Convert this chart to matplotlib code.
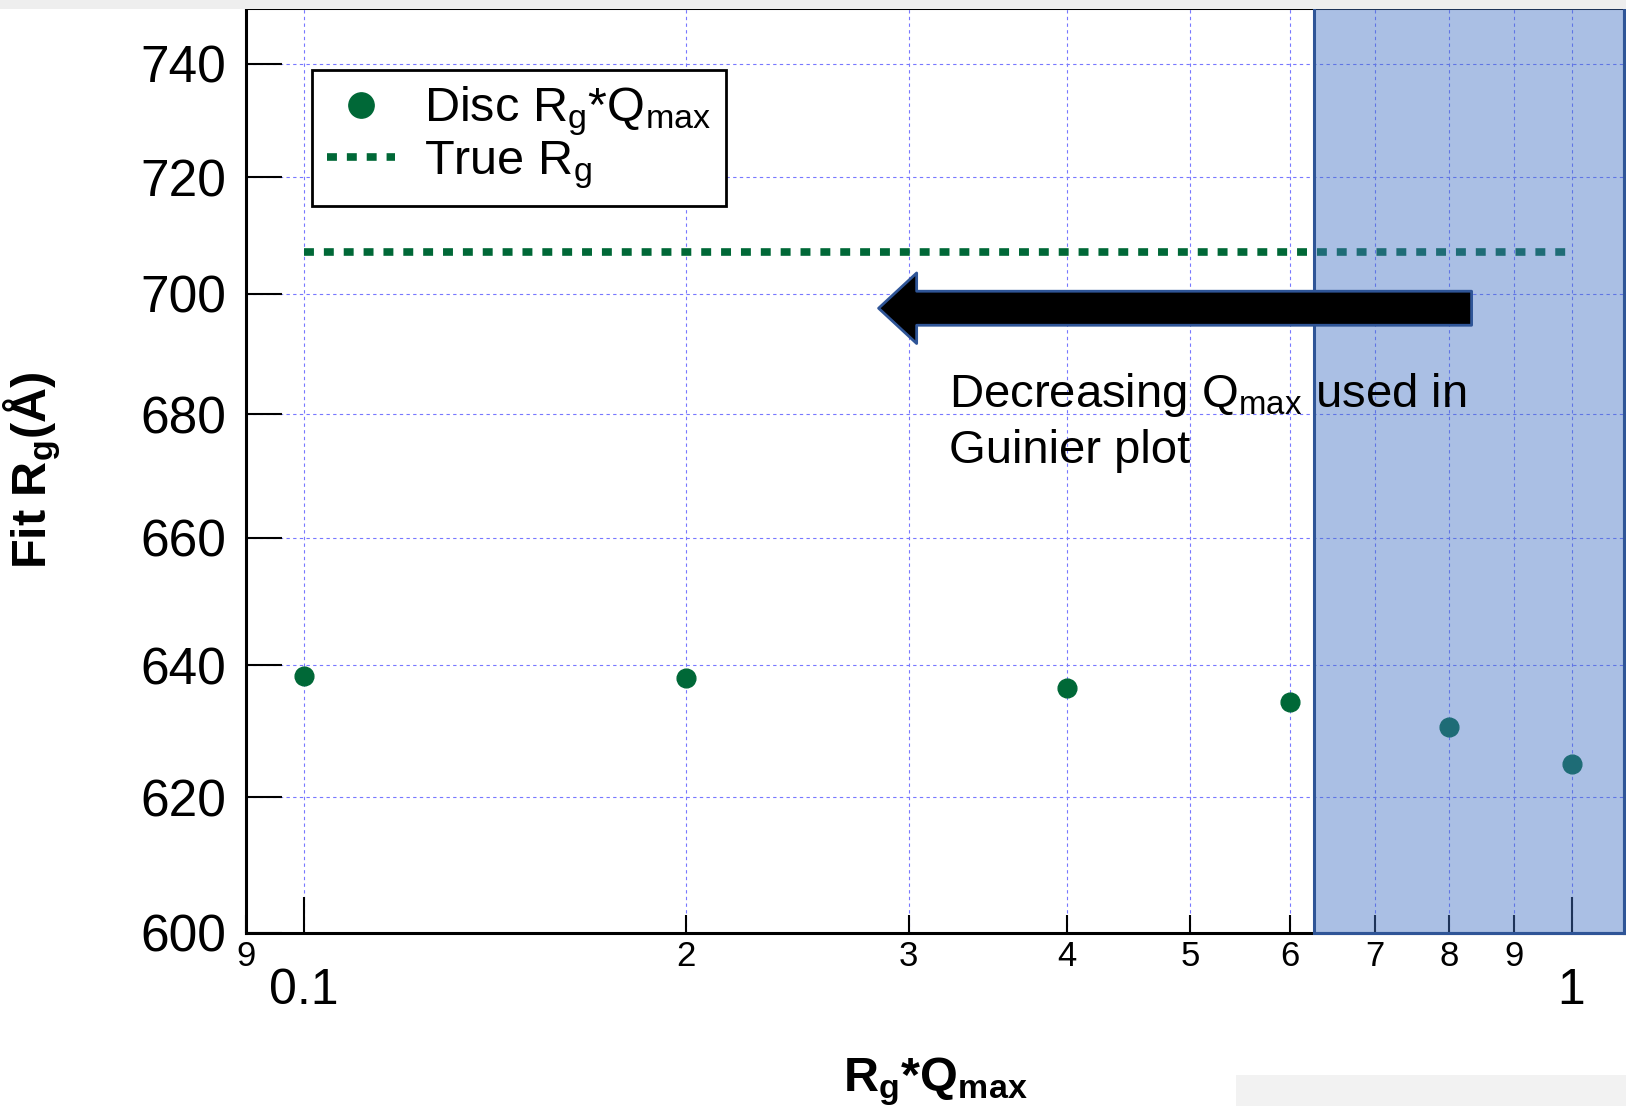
import matplotlib
matplotlib.use("Agg")
import matplotlib.pyplot as plt
from matplotlib.patches import Rectangle, FancyArrowPatch, ArrowStyle
from matplotlib.ticker import FixedLocator, FixedFormatter, NullLocator
from matplotlib.transforms import blended_transform_factory

plt.rcParams["font.family"] = ["Liberation Sans", "DejaVu Sans"]
plt.rcParams["mathtext.fontset"] = "custom"
plt.rcParams["mathtext.rm"] = "Liberation Sans"
plt.rcParams["mathtext.it"] = "Liberation Sans:italic"
plt.rcParams["mathtext.bf"] = "Liberation Sans:bold"
plt.rcParams["mathtext.default"] = "regular"

# data
rgq = [0.1, 0.2, 0.4, 0.6, 0.8, 1.0]
fit_rg = [638.3, 638.0, 636.6, 634.4, 630.6, 625.0]
true_rg_x = [0.1, 1.0]
true_rg = 707.1

y_ticks = [600, 620, 640, 660, 680, 700, 720, 740]
x_major = [0.1, 1.0]
x_major_labels = ["0.1", "1"]
x_minor = [0.09, 0.2, 0.3, 0.4, 0.5, 0.6, 0.7, 0.8, 0.9]
x_minor_labels = ["9", "2", "3", "4", "5", "6", "7", "8", "9"]

highlight_start = 0.626
arrow_tail = 0.834
arrow_tip = 0.284
arrow_y = 697.6

GREEN = "#006837"
GRID = "#7878ff"

fig = plt.figure(figsize=(16.26, 11.16), dpi=100)
W, H = 1626, 1116
ax = fig.add_axes([246 / W, 1 - 933 / H, (1624 - 246) / W, (933 - 8) / H])

# screenshot remnants
fig.patches.append(Rectangle((0, 1 - 9 / H), 1, 9 / H, transform=fig.transFigure,
                             facecolor="#eeeeee", edgecolor="none", zorder=0))
fig.patches.append(Rectangle((1236 / W, 1 - 1106 / H), 1 - 1236 / W, 31 / H,
                             transform=fig.transFigure, facecolor="#f2f2f2",
                             edgecolor="none", zorder=0))

ax.set_xscale("log")
ax.set_yscale("log")
ax.set_xlim(0.09, 1.1)
ax.set_ylim(600, 750)

ax.plot(rgq, fit_rg, "o", color=GREEN, markersize=13.5, zorder=3,
        label=r"Disc R$_g$*Q$_{max}$")
ax.plot(true_rg_x, [true_rg, true_rg], color=GREEN, lw=5.5,
        linestyle=(0, (1.3, 1.3)), dash_capstyle="butt", zorder=3,
        label=r"True R$_g$")

# axes ticks
ax.yaxis.set_major_locator(FixedLocator(y_ticks))
ax.yaxis.set_major_formatter(FixedFormatter([str(v) for v in y_ticks]))
ax.yaxis.set_minor_locator(NullLocator())
ax.xaxis.set_major_locator(FixedLocator(x_major))
ax.xaxis.set_major_formatter(FixedFormatter(x_major_labels))
ax.xaxis.set_minor_locator(FixedLocator(x_minor))
ax.xaxis.set_minor_formatter(FixedFormatter(x_minor_labels))

ax.tick_params(axis="y", which="major", direction="in", length=26, width=1.5,
               labelsize=37, pad=14)
ax.tick_params(axis="x", which="major", direction="in", length=26, width=1.5,
               labelsize=36, pad=25)
ax.tick_params(axis="x", which="minor", direction="in", length=13, width=1.5,
               labelsize=25, pad=5)

ax.grid(True, which="both", axis="x", color=GRID, lw=0.8, linestyle=(0, (3, 3)))
ax.grid(True, which="major", axis="y", color=GRID, lw=0.8, linestyle=(0, (3, 3)))

for s in ax.spines.values():
    s.set_linewidth(2.2)

ax.set_xlabel(r"R$_g$*Q$_{max}$", fontsize=35, fontweight="bold")
ax.xaxis.set_label_coords(0.5, -0.132)
ax.set_ylabel(r"Fit R$_g$(Å)", fontsize=35, fontweight="bold")
ax.yaxis.set_label_coords(-0.133, 0.5)

leg = ax.legend(loc="upper left", bbox_to_anchor=(0.048, 0.933), borderaxespad=0,
                fontsize=35, handlelength=1.4, handletextpad=0.6, markerscale=1.35,
                fancybox=False, framealpha=1, edgecolor="black",
                borderpad=0.3, labelspacing=0.02)
leg.get_frame().set_linewidth(2)
leg.set_zorder(6)

# highlighted region
bt = blended_transform_factory(ax.transData, ax.transAxes)
box = Rectangle((highlight_start, 0), 1.1 - highlight_start, 1.0054, transform=bt,
                facecolor="#4472c4", alpha=0.45, edgecolor="none", zorder=4,
                clip_on=False)
ax.add_patch(box)
ax.add_patch(Rectangle((highlight_start, 0), 1.1 - highlight_start, 1.0054,
                       transform=bt, facecolor="none", edgecolor="#2f5597", lw=2.2,
                       zorder=4.1, clip_on=False))

arrow = FancyArrowPatch((arrow_tail, arrow_y), (arrow_tip, arrow_y),
                        arrowstyle=ArrowStyle("simple", head_length=27.4,
                                              head_width=50.8, tail_width=24.5),
                        mutation_scale=1, shrinkA=0, shrinkB=0,
                        facecolor="black", edgecolor="#2f5597", lw=2, zorder=5)
ax.add_patch(arrow)

ax.text(0.323, 0.5686, r"Decreasing Q$_{max}$ used in", transform=bt, fontsize=34,
        va="baseline", ha="left", zorder=7)
ax.text(0.323, 0.5081, "Guinier plot", transform=bt, fontsize=34,
        va="baseline", ha="left", zorder=7)

fig.savefig("out.png", dpi=100)
